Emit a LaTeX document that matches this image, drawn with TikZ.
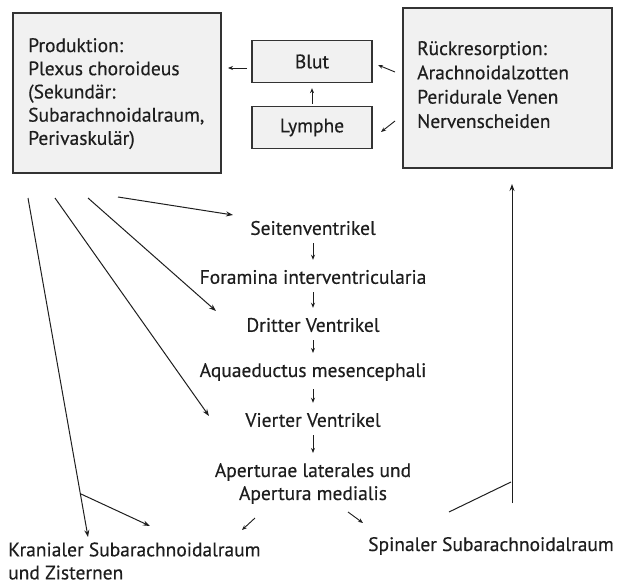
\documentclass[tikz,border=0pt]{standalone}
\usepackage{fontspec}
\setmainfont{PT Sans}[FakeBold=0.4]
\usetikzlibrary{arrows.meta}
\definecolor{ink}{HTML}{1E1E1E}
\definecolor{boxfill}{HTML}{F1F1F1}
\definecolor{boxline}{HTML}{333333}
\tikzset{
  bigbox/.style={draw=boxline, line width=1.3pt, fill=boxfill, inner sep=0pt},
  smallbox/.style={draw=boxline, line width=1.3pt, fill=boxfill, inner sep=0pt, minimum width=120pt, minimum height=42pt, font=\fontsize{19.5}{23}\selectfont, text=ink},
  txt/.style={font=\fontsize{19.5}{23}\selectfont, text=ink, inner sep=3pt, align=left},
  ctxt/.style={font=\fontsize{19.5}{23}\selectfont, text=ink, inner sep=3pt, align=center},
  arr/.style={draw=ink, line width=1pt, -{Stealth[length=7pt,width=5pt]}},
  tiny/.style={draw=ink, line width=0.9pt, -{Stealth[length=5pt,width=4pt]}},
  plain/.style={draw=ink, line width=1pt}
}
\begin{document}
\begin{tikzpicture}[x=1pt,y=-1pt]
\useasboundingbox (0,0) rectangle (619,586);
% boxes
\node[bigbox, minimum width=208pt, minimum height=160pt] (prod) at (117,93) {};
\node[txt, anchor=north west, font=\fontsize{19.5}{23.2}\selectfont] (prodtxt) at (25,35) {Produktion:\\Plexus choroideus\\(Sekundär:\\Subarachnoidalraum,\\Perivaskulär)};
\node[bigbox, minimum width=209pt, minimum height=160pt] (rueck) at (507.5,88) {};
\node[txt, anchor=north west, font=\fontsize{19.5}{24.3}\selectfont] (ruecktxt) at (414,38) {Rückresorption:\\Arachnoidalzotten\\Peridurale Venen\\Nervenscheiden};
\node[smallbox] (blut) at (312,61.5) {Blut};
\node[smallbox] (lymphe) at (312,127.5) {Lymphe};
% arrows among boxes
\coordinate (b1) at (247,68); \coordinate (b2) at (228,68);
\draw[tiny] (b1) -- (b2);
\draw[tiny, shorten <=2pt, shorten >=5pt] (lymphe.north) -- (blut.south);
\coordinate (r1) at (395,72); \coordinate (r2) at (378,65);
\draw[tiny] (r1) -- (r2);
\coordinate (r3) at (395,121); \coordinate (r4) at (381,132);
\draw[tiny] (r3) -- (r4);
% chain
\node[ctxt] (seiten) at (313,228) {Seitenventrikel};
\node[ctxt] (foramina) at (313,277) {Foramina interventricularia};
\node[ctxt] (dritter) at (313,325) {Dritter Ventrikel};
\node[ctxt] (aquae) at (313,372) {Aquaeductus mesencephali};
\node[ctxt] (vierter) at (313,420) {Vierter Ventrikel};
\node[ctxt] (apert) at (313,483.5) {Aperturae laterales und\\Apertura medialis};
\draw[tiny, shorten <=5pt, shorten >=7pt] (seiten) -- (foramina);
\draw[tiny, shorten <=5pt, shorten >=7pt] (foramina) -- (dritter);
\draw[tiny, shorten <=5pt, shorten >=7pt] (dritter) -- (aquae);
\draw[tiny, shorten <=5pt, shorten >=7pt] (aquae) -- (vierter);
\draw[tiny, shorten <=5pt, shorten >=7pt] (vierter) -- (apert.north);
% bottom targets
\node[txt, anchor=west] (kran) at (5,561) {Kranialer Subarachnoidalraum\\und Zisternen};
\node[txt, anchor=west] (spin) at (365,546) {Spinaler Subarachnoidalraum};
% long arrows from production
\coordinate (p1) at (28,198); \coordinate (k1) at (88,537);
\coordinate (p2) at (55,198); \coordinate (v2) at (209,416);
\coordinate (p3) at (88,198); \coordinate (d3) at (216,311);
\coordinate (p4) at (118,197); \coordinate (s4) at (233,215);
\draw[arr] (p1) -- (k1);
\draw[arr] (p2) -- (v2);
\draw[arr] (p3) -- (d3);
\draw[arr] (p4) -- (s4);
\coordinate (br) at (81,494); \coordinate (bre) at (150,526);
\draw[arr] (br) -- (bre);
% from apertures
\coordinate (a1) at (255,518); \coordinate (a2) at (242,530);
\draw[tiny] (a1) -- (a2);
\coordinate (a3) at (348,512); \coordinate (a4) at (363,523);
\draw[tiny] (a3) -- (a4);
% return path
\coordinate (sp1) at (449,512); \coordinate (sp2) at (511,482);
\draw[plain] (sp1) -- (sp2);
\coordinate (vb) at (512,503); \coordinate (vt) at (512,184);
\draw[arr] (vb) -- (vt);
\end{tikzpicture}
\end{document}
